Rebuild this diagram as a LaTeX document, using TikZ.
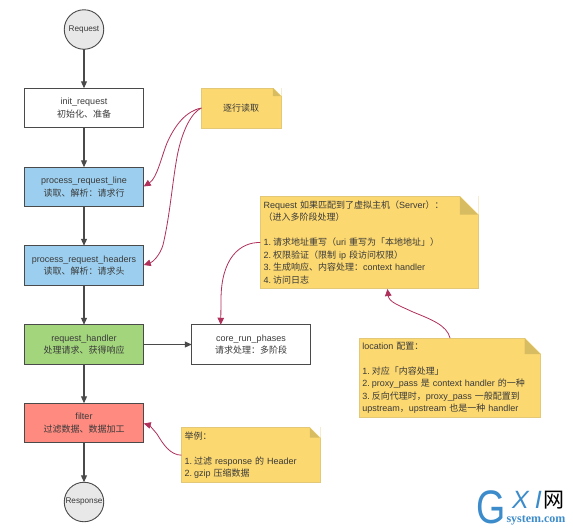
\documentclass[tikz,border=0pt]{standalone}
\usepackage{fontspec}
\setmainfont{Liberation Sans}
\newfontfamily\cjkfont{Noto Sans CJK SC}
\newfontfamily\wmserif{Liberation Serif}
\newcommand{\zh}[1]{{\cjkfont #1}}
\usetikzlibrary{arrows.meta,calc}
\definecolor{inktext}{HTML}{3A3A3A}
\definecolor{edgegray}{HTML}{4A4A4A}
\definecolor{bluefill}{HTML}{9CCFEF}
\definecolor{greenfill}{HTML}{A3D67C}
\definecolor{redfill}{HTML}{FF8A80}
\definecolor{notefill}{HTML}{FCD870}
\definecolor{noteedge}{HTML}{E3C878}
\definecolor{foldfill}{HTML}{D8BC62}
\definecolor{curvered}{HTML}{B0305C}
\definecolor{wmblue}{HTML}{3C8CCB}
\tikzset{
  x=1pt,y=-1pt,
  every node/.style={inner sep=0pt,outer sep=0pt,text=inktext,font=\fontsize{9}{12.5}\selectfont},
  stagebox/.style={draw=edgegray,line width=1.1pt,minimum width=118.5pt,minimum height=39.5pt,align=center},
  endcircle/.style={circle,draw=edgegray,line width=.9pt,fill=black!9,minimum size=39.5pt,font=\fontsize{8.2}{10}\selectfont},
  notebox/.style={draw=noteedge,line width=.6pt,fill=notefill,align=left},
  flow/.style={draw=edgegray,line width=1.1pt,-{Triangle[length=7pt,width=6pt]}},
  remark/.style={draw=curvered,line width=.8pt,-{Triangle[length=7pt,width=6.5pt,fill=curvered]}},
  foldback/.style={fill=white,draw=none},
  foldflap/.style={fill=foldfill,draw=none},
}
\newcommand{\foldcorner}[2]{%
  \fill[foldback] ($(#1.north east)+(-#2,-.6)$) -- ($(#1.north east)+(.6,-.6)$) -- ($(#1.north east)+(.6,#2)$) -- cycle;
  \fill[foldflap] ($(#1.north east)+(-#2,0)$) -- ($(#1.north east)+(0,#2)$) -- ($(#1.north east)+(-#2,#2)$) -- cycle;
}
\newcommand{\num}[1]{#1.\hspace{2pt}}
\begin{document}
\begin{tikzpicture}
\useasboundingbox (0,0) rectangle (573,528);
\fill[white] (0,0) rectangle (573,528);
% flow
\node[endcircle] (req) at (84,29.5) {Request};
\node[stagebox] (init) at (84,108) {init\_request\\\zh{初始化、准备}};
\node[stagebox,fill=bluefill] (line) at (84,187) {process\_request\_line\\\zh{读取、解析：请求行}};
\node[stagebox,fill=bluefill] (head) at (84,265.5) {process\_request\_headers\\\zh{读取、解析：请求头}};
\node[stagebox,fill=greenfill] (hand) at (84,344.5) {request\_handler\\\zh{处理请求、获得响应}};
\node[stagebox] (core) at (251,344.5) {core\_run\_phases\\\zh{请求处理：多阶段}};
\node[stagebox,fill=redfill] (filt) at (84,423) {filter\\\zh{过滤数据、数据加工}};
\node[endcircle] (resp) at (84,502) {Response};
% notes
\node[notebox,minimum width=79.5pt,minimum height=40pt,align=center] (n1) at (241.2,108) {\zh{逐行读取}};
\foldcorner{n1}{8}
\node[notebox,minimum width=217.5pt,minimum height=92pt,text width=211pt] (n2) at (369.2,242.5) {Request \zh{如果匹配到了虚拟主机（}Server\zh{）：}\\\zh{（进入多阶段处理）}\\~\\\num{1}\zh{请求地址重写（}uri \zh{重写为「本地地址」）}\\\num{2}\zh{权限验证（限制} ip \zh{段访问权限）}\\\num{3}\zh{生成响应、内容处理：}context handler\\\num{4}\zh{访问日志}};
\foldcorner{n2}{18}
\node[notebox,minimum width=181.5pt,minimum height=79.7pt,text width=175pt] (n3) at (449.8,377.9) {location \zh{配置：}\\~\\\num{1}\zh{对应「内容处理」}\\\num{2}proxy\_pass \zh{是} context handler \zh{的一种}\\\num{3}\zh{反向代理时，}proxy\_pass \zh{一般配置到}\\upstream\zh{，}upstream \zh{也是一种} handler};
\foldcorner{n3}{16}
\node[notebox,minimum width=138.5pt,minimum height=55pt,text width=132pt] (n4) at (250.7,455.2) {\zh{举例：}\\~\\\num{1}\zh{过滤} response \zh{的} Header\\\num{2}gzip \zh{压缩数据}};
\foldcorner{n4}{10}
% flow connectors
\draw[flow] (req) -- (init);
\draw[flow] (init) -- (line);
\draw[flow] (line) -- (head);
\draw[flow] (head) -- (hand);
\draw[flow] (hand) -- (filt);
\draw[flow] (filt) -- (resp);
\draw[flow,line width=.9pt] (hand) -- (core);
% remark connectors
\draw[remark] (n1.west) .. controls (186,111) and (175,125) .. (167,143) .. controls (161,158) and (157,178) .. ($(line.east)+(.5,-.5)$);
\draw[remark] (n1.west) .. controls (192,112) and (182,130) .. (177,157) .. controls (172,185) and (170,215) .. (163,245) .. controls (160,255) and (153,262) .. ($(head.east)+(.5,-.5)$);
\draw[remark] (n2.west) .. controls (240,242) and (221,258) .. (221,300) -- ($(core.north west)+(29,0)$);
\draw[remark] ($(n3.north west)+(91,0)$) .. controls (447,325) and (430,319) .. (413,312) .. controls (398,305) and (389,302) .. ($(n2.south west)+(127,.5)$);
\draw[remark] (n4.west) .. controls (170,455) and (163,444) .. (157,434) .. controls (152,428) and (149,425) .. ($(filt.east)+(.5,.5)$);
% watermark
\node[text=wmblue,font=\fontsize{47}{47}\selectfont,xscale=.8] (wmg) at (491,507) {G};
\node[text=wmblue,font=\fontsize{25}{25}\selectfont\itshape] (wmxi) at (527,500) {X\hspace{6pt}I};
\node[text=black,font=\fontsize{21}{21}\selectfont\cjkfont] (wmw) at (554,500) {网};
\node[text=wmblue,font=\fontsize{12}{12}\selectfont\bfseries\wmserif] (wms) at (536,520) {system.com};
\end{tikzpicture}
\end{document}
